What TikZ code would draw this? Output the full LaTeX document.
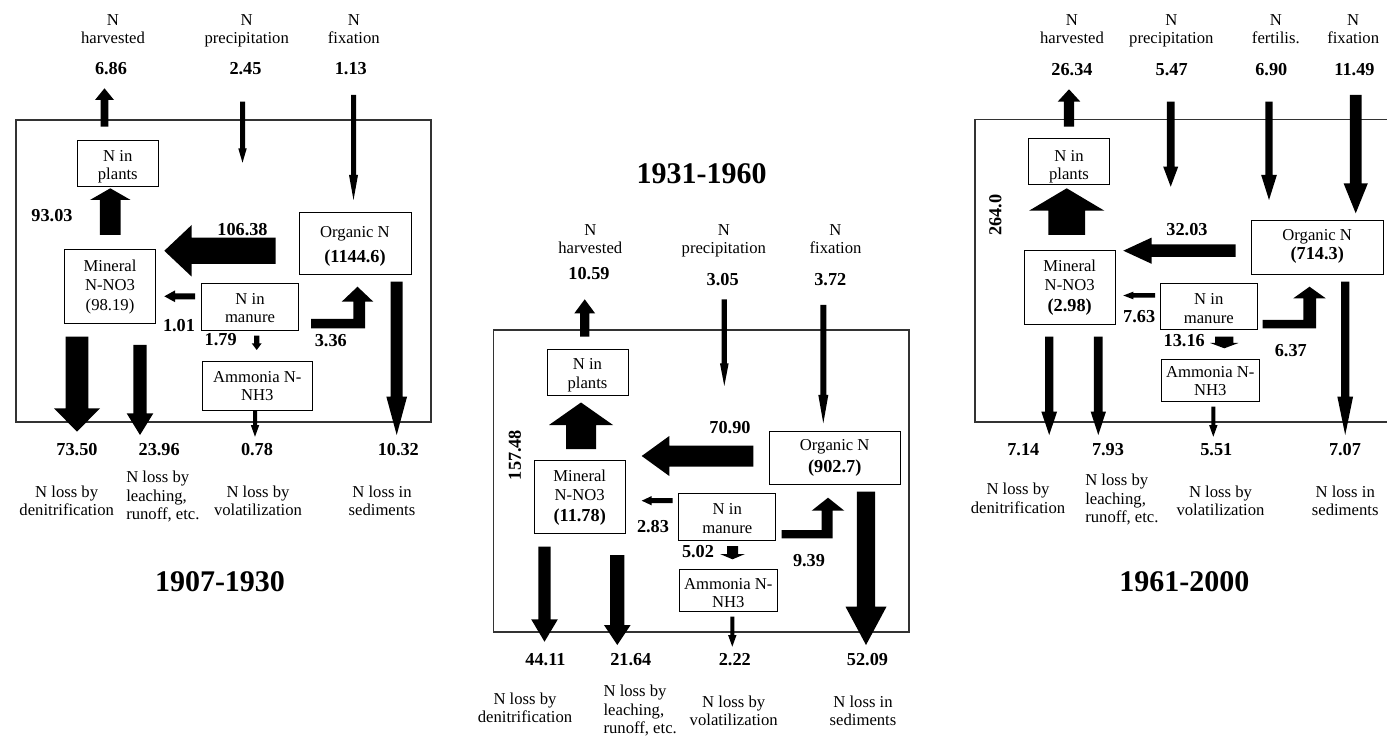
\documentclass[tikz,border=0pt]{standalone}
\usepackage{fontspec}
\setmainfont{Liberation Serif}
\newcommand\px{0.75pt}
% vertical block arrow: x, ytail, ybase, ytip, shaft width, head width
\newcommand\varrow[6]{\fill ({#1-#5/2},#2) -- ({#1-#5/2},#3) -- ({#1-#6/2},#3) -- (#1,#4) -- ({#1+#6/2},#3) -- ({#1+#5/2},#3) -- ({#1+#5/2},#2) -- cycle;}
% horizontal block arrow: y, xtail, xbase, xtip, shaft height, head height
\newcommand\harrow[6]{\fill (#2,{#1-#5/2}) -- (#3,{#1-#5/2}) -- (#3,{#1-#6/2}) -- (#4,#1) -- (#3,{#1+#6/2}) -- (#3,{#1+#5/2}) -- (#2,{#1+#5/2}) -- cycle;}
% bent arrow: x0, y1, y2, xa, xb, ybase, xh1, xh2, ytip
\newcommand\barrow[9]{\fill (#1,#3) -- (#5,#3) -- (#5,#6) -- (#8,#6) -- ({(#7+#8)/2},#9) -- (#7,#6) -- (#4,#6) -- (#4,#2) -- (#1,#2) -- cycle;}
\newcommand\bv[1]{\textbf{\fontsize{13.7}{15}\selectfont #1}}
\begin{document}
\begin{tikzpicture}[x=0.75pt,y=-0.75pt,
  lbl/.style={inner sep=0pt,align=center,text depth=0pt,font=\fontsize{12.5}{13.7}\selectfont},
  lleft/.style={inner sep=0pt,align=left,anchor=west,font=\fontsize{12.5}{13.7}\selectfont},
  num/.style={inner sep=0pt,font=\fontsize{13.7}{15}\selectfont\bfseries},
  ttl/.style={inner sep=0pt,font=\fontsize{22.5}{24}\selectfont\bfseries},
  box/.style={draw,line width=0.7pt,inner sep=0pt},
  frame/.style={draw,line width=0.8pt,black!80}]
\useasboundingbox (0,0) rectangle (1387,737);
\clip (0,0) rectangle (1387,737);
\fill[white] (0,0) rectangle (1387,737);

%%%%%%%%%%%%%%%% Panel 1 : 1907-1930
\draw[frame] (16,120) rectangle (431,422);
\node[ttl] (t1) at (220,581.7) {1907-1930};
\node[lbl] (p1harv) at (113,29) {N\\harvested};
\node[num] (p1harvv) at (111,69) {6.86};
\node[lbl] (p1prec) at (246.7,29) {N\\precipitation};
\node[num] (p1precv) at (245.5,69) {2.45};
\node[lbl] (p1fix) at (353.8,29) {N\\fixation};
\node[num] (p1fixv) at (350.8,69) {1.13};

\node[box,minimum width=81*\px,minimum height=46*\px] (p1plants) at (117.8,163) {};
\node[box,minimum width=112*\px,minimum height=61.7*\px] (p1org) at (355,243.2) {};
\node[box,minimum width=91.4*\px,minimum height=74*\px] (p1min) at (110,286.3) {};
\node[box,minimum width=97*\px,minimum height=46.7*\px] (p1man) at (250,306.7) {};
\node[box,minimum width=110*\px,minimum height=49*\px] (p1amm) at (257.3,386.2) {};
\node[lbl] (p1plantsT) at (117.8,165) {N in\\plants};
\node[lbl] (p1orgT) at (355,244.5) {Organic N\\[5.6pt]\bv{(1144.6)}};
\node[lbl] (p1minT) at (110,285.3) {Mineral\\N-NO3\\[1.5pt](98.19)};
\node[lbl] (p1manT) at (250,308) {N in\\manure};
\node[lbl] (p1ammT) at (257.3,386) {Ammonia N-\\NH3};

\varrow{104.5}{126.7}{100}{88.3}{7.7}{19}
\varrow{242.5}{101.7}{148.3}{162.7}{5}{8.5}
\varrow{353.5}{95}{175}{200}{5}{9}
\varrow{110.3}{235}{200}{188.3}{20.7}{40.7}
\harrow{250.8}{275.7}{191.7}{164.3}{26.3}{51.7}
\harrow{296.3}{195}{175}{164.3}{6}{11.7}
\varrow{256.7}{335.7}{343.3}{350}{5.3}{10}
\barrow{311}{319}{328.3}{353.3}{365}{301.7}{341.7}{373.3}{286.7}
\varrow{77}{336.7}{408.3}{431.7}{22.7}{46}
\varrow{140}{345}{413.3}{435}{13.3}{26.7}
\varrow{255}{410.7}{425}{436.7}{4}{8.5}
\varrow{396.7}{281.7}{396.7}{435}{12}{20.7}

\node[num] (p1a) at (52,216) {93.03};
\node[num] (p1b) at (242.5,229.3) {106.38};
\node[num] (p1c) at (179,326) {1.01};
\node[num] (p1d) at (220.7,340) {1.79};
\node[num] (p1e) at (330.8,340.7) {3.36};
\node[num] (p1f) at (77,450) {73.50};
\node[num] (p1g) at (159.2,450) {23.96};
\node[num] (p1h) at (257,450) {0.78};
\node[num] (p1i) at (398.3,450) {10.32};
\node[lbl] (p1j) at (66.7,501) {N loss by\\denitrification};
\node[lleft] (p1k) at (126,496.7) {N loss by\\leaching,\\runoff, etc.};
\node[lbl] (p1l) at (258,501) {N loss by\\volatilization};
\node[lbl] (p1m) at (382,501) {N loss in\\sediments};

%%%%%%%%%%%%%%%% Panel 2 : 1931-1960
\draw[frame] (493.3,330) rectangle (909,632);
\node[ttl] (t2) at (701.7,173.3) {1931-1960};
\node[lbl] (p2harv) at (590.3,239) {N\\harvested};
\node[num] (p2harvv) at (589,274) {10.59};
\node[lbl] (p2prec) at (723.8,239) {N\\precipitation};
\node[num] (p2precv) at (722.7,279.3) {3.05};
\node[lbl] (p2fix) at (835.5,239) {N\\fixation};
\node[num] (p2fixv) at (830.3,279.3) {3.72};

\node[box,minimum width=81*\px,minimum height=46*\px] (p2plants) at (587.5,372) {};
\node[box,minimum width=130.7*\px,minimum height=53.3*\px] (p2org) at (834.7,457.7) {};
\node[box,minimum width=90.7*\px,minimum height=73.3*\px] (p2min) at (579.7,497.3) {};
\node[box,minimum width=97.3*\px,minimum height=46.7*\px] (p2man) at (727.3,516.7) {};
\node[box,minimum width=98*\px,minimum height=41.7*\px] (p2amm) at (728.3,590.8) {};
\node[lbl] (p2plantsT) at (587.5,373.5) {N in\\plants};
\node[lbl] (p2orgT) at (834.7,456) {Organic N\\[2.3pt]\bv{(902.7)}};
\node[lbl] (p2minT) at (579.7,495.7) {Mineral\\N-NO3\\[2pt]\bv{(11.78)}};
\node[lbl] (p2manT) at (727.3,518.5) {N in\\manure};
\node[lbl] (p2ammT) at (728.3,592.7) {Ammonia N-\\NH3};

\varrow{584.7}{336.7}{313.3}{299.3}{9.3}{20.7}
\varrow{724.3}{299.3}{363.3}{386}{5.3}{8.7}
\varrow{823.3}{305}{395}{423.3}{6}{10}
\varrow{581}{449}{425}{402.5}{30}{64}
\harrow{456}{753.3}{669.3}{641.7}{21}{40}
\harrow{500.7}{672.7}{651.7}{641.7}{5}{9.3}
\varrow{732.5}{546}{554}{559.3}{11}{25}
\barrow{781.7}{530}{538.3}{821.7}{832.7}{510.7}{811.7}{844.3}{497.7}
\varrow{544.5}{546.7}{619.3}{641.7}{12.3}{26.7}
\varrow{617.3}{555}{625}{645}{14.3}{26.7}
\varrow{732.3}{616.7}{635}{646.7}{4}{8.5}
\varrow{866}{491.7}{606.7}{645}{18.3}{41}

\node[num,rotate=90] (p2a) at (515,455) {157.48};
\node[num] (p2b) at (730,427.7) {70.90};
\node[num] (p2c) at (653,526.7) {2.83};
\node[num] (p2d) at (698,551.7) {5.02};
\node[num] (p2e) at (809,560.7) {9.39};
\node[num] (p2f) at (545.5,660) {44.11};
\node[num] (p2g) at (630.8,660) {21.64};
\node[num] (p2h) at (734.8,660) {2.22};
\node[num] (p2i) at (867.5,660) {52.09};
\node[lbl] (p2j) at (525,707.8) {N loss by\\denitrification};
\node[lleft] (p2k) at (603.3,710.7) {N loss by\\leaching,\\runoff, etc.};
\node[lbl] (p2l) at (733.7,710.8) {N loss by\\volatilization};
\node[lbl] (p2m) at (863,710.8) {N loss in\\sediments};

%%%%%%%%%%%%%%%% Panel 3 : 1961-2000
\draw[frame] (975,119.5) rectangle (1400,422);
\node[ttl] (t3) at (1184.3,581.7) {1961-2000};
\node[lbl] (p3harv) at (1072,29) {N\\harvested};
\node[num] (p3harvv) at (1072,70) {26.34};
\node[lbl] (p3prec) at (1171.3,29) {N\\precipitation};
\node[num] (p3precv) at (1171.7,70) {5.47};
\node[lbl] (p3fert) at (1275.8,29) {N\\fertilis.};
\node[num] (p3fertv) at (1271.3,70) {6.90};
\node[lbl] (p3fix) at (1353.2,29) {N\\fixation};
\node[num] (p3fixv) at (1354.5,70) {11.49};

\node[box,minimum width=80.7*\px,minimum height=46*\px] (p3plants) at (1069,161.3) {};
\node[box,minimum width=132.3*\px,minimum height=54.3*\px] (p3org) at (1317.2,247.2) {};
\node[box,minimum width=90.7*\px,minimum height=74*\px] (p3min) at (1069.7,287) {};
\node[box,minimum width=97.7*\px,minimum height=46*\px] (p3man) at (1208.8,306.3) {};
\node[box,minimum width=97.7*\px,minimum height=41.7*\px] (p3amm) at (1210.2,380.8) {};
\node[lbl] (p3plantsT) at (1069,164.8) {N in\\plants};
\node[lbl] (p3orgT) at (1317.2,244.8) {Organic N\\[0.6pt]\bv{(714.3)}};
\node[lbl] (p3minT) at (1069.7,286.2) {Mineral\\N-NO3\\[2.6pt]\bv{(2.98)}};
\node[lbl] (p3manT) at (1208.8,308.5) {N in\\manure};
\node[lbl] (p3ammT) at (1210.2,381) {Ammonia N-\\NH3};

\varrow{1069}{126.7}{101.7}{89.3}{10.3}{22.7}
\varrow{1170.7}{101.7}{166.7}{186.7}{7.7}{15}
\varrow{1269}{101.7}{175}{200}{7.3}{15.7}
\varrow{1355.7}{95}{183.3}{213.3}{11.7}{24.3}
\varrow{1066.7}{235}{210.7}{188.3}{36.7}{75.3}
\harrow{250.7}{1235.7}{1151.7}{1123.3}{12.4}{26.3}
\harrow{295.5}{1155}{1133.3}{1123.3}{4.5}{7.7}
\varrow{1224.3}{336.7}{343}{348.3}{18.3}{28.3}
\barrow{1262.7}{320}{328.3}{1303.3}{1316}{298.3}{1293.3}{1325.7}{286.7}
\varrow{1049.2}{336.7}{411.7}{435}{8.3}{15.7}
\varrow{1098.3}{336.7}{411.7}{435}{8.7}{15.3}
\varrow{1213.3}{406.7}{425}{436.7}{4}{8.5}
\varrow{1345.2}{281.7}{396.7}{435}{8.3}{15.7}

\node[num,rotate=90] (p3a) at (995.5,215) {264.0};
\node[num] (p3b) at (1187,230) {32.03};
\node[num] (p3c) at (1139.2,316.7) {7.63};
\node[num] (p3d) at (1184.2,341) {13.16};
\node[num] (p3e) at (1290.8,351) {6.37};
\node[num] (p3f) at (1023.3,450) {7.14};
\node[num] (p3g) at (1108,450) {7.93};
\node[num] (p3h) at (1216.3,450) {5.51};
\node[num] (p3i) at (1345,450) {7.07};
\node[lbl] (p3j) at (1018,498.3) {N loss by\\denitrification};
\node[lleft] (p3k) at (1085,499.5) {N loss by\\leaching,\\runoff, etc.};
\node[lbl] (p3l) at (1220.5,501) {N loss by\\volatilization};
\node[lbl] (p3m) at (1345.2,501) {N loss in\\sediments};
\end{tikzpicture}
\end{document}
